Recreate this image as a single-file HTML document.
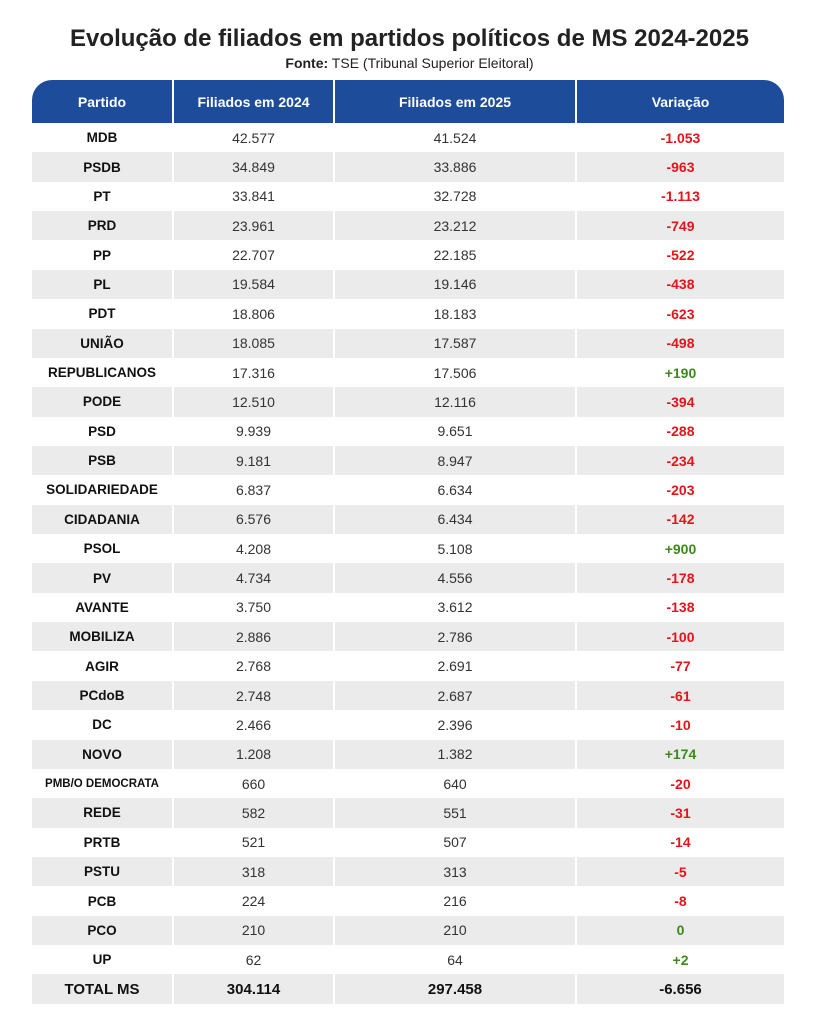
<!DOCTYPE html>
<html><head><meta charset="utf-8"><style>
body{margin:0;background:#fff;width:819px;height:1024px;overflow:hidden;font-family:"Liberation Sans",sans-serif;}
h1{position:absolute;top:25px;left:0;width:819px;text-align:center;margin:0;font-size:24px;font-weight:bold;color:#222;}
.sub{position:absolute;top:55px;left:0;width:819px;text-align:center;font-size:14px;color:#222;}
table{position:absolute;left:32px;top:80px;width:752px;border-collapse:collapse;table-layout:fixed;}
th{background:#1d4c9a;color:#fff;font-size:14px;font-weight:bold;height:43px;border-left:2px solid #fff;padding:0;}
th:first-child{border-left:none;border-top-left-radius:20px;}
th:last-child{border-top-right-radius:20px;}
td{height:29.37px;padding:0;text-align:center;font-size:14px;color:#333;border-left:2px solid #fff;}
td:first-child{font-weight:bold;color:#111;border-left:none;font-size:13.5px;}
tr:nth-child(even) td{background:#ebebeb;}
tr:nth-child(odd) td{background:#fff;}
.r{color:#e3141b;font-weight:bold;}
.g{color:#3b8a1a;font-weight:bold;}
tr.t td{font-weight:bold;font-size:15px;color:#111;background:#ebebeb;}
</style></head><body>
<h1>Evolução de filiados em partidos políticos de MS 2024-2025</h1>
<div class="sub"><b>Fonte:</b> TSE (Tribunal Superior Eleitoral)</div>
<table>
<colgroup><col style="width:141px"><col style="width:161px"><col style="width:242px"><col style="width:208px"></colgroup>
<thead><tr><th>Partido</th><th>Filiados em 2024</th><th>Filiados em 2025</th><th>Variação</th></tr></thead>
<tbody>
<tr><td>MDB</td><td>42.577</td><td>41.524</td><td class="r">-1.053</td></tr>
<tr><td>PSDB</td><td>34.849</td><td>33.886</td><td class="r">-963</td></tr>
<tr><td>PT</td><td>33.841</td><td>32.728</td><td class="r">-1.113</td></tr>
<tr><td>PRD</td><td>23.961</td><td>23.212</td><td class="r">-749</td></tr>
<tr><td>PP</td><td>22.707</td><td>22.185</td><td class="r">-522</td></tr>
<tr><td>PL</td><td>19.584</td><td>19.146</td><td class="r">-438</td></tr>
<tr><td>PDT</td><td>18.806</td><td>18.183</td><td class="r">-623</td></tr>
<tr><td>UNIÃO</td><td>18.085</td><td>17.587</td><td class="r">-498</td></tr>
<tr><td>REPUBLICANOS</td><td>17.316</td><td>17.506</td><td class="g">+190</td></tr>
<tr><td>PODE</td><td>12.510</td><td>12.116</td><td class="r">-394</td></tr>
<tr><td>PSD</td><td>9.939</td><td>9.651</td><td class="r">-288</td></tr>
<tr><td>PSB</td><td>9.181</td><td>8.947</td><td class="r">-234</td></tr>
<tr><td>SOLIDARIEDADE</td><td>6.837</td><td>6.634</td><td class="r">-203</td></tr>
<tr><td>CIDADANIA</td><td>6.576</td><td>6.434</td><td class="r">-142</td></tr>
<tr><td>PSOL</td><td>4.208</td><td>5.108</td><td class="g">+900</td></tr>
<tr><td>PV</td><td>4.734</td><td>4.556</td><td class="r">-178</td></tr>
<tr><td>AVANTE</td><td>3.750</td><td>3.612</td><td class="r">-138</td></tr>
<tr><td>MOBILIZA</td><td>2.886</td><td>2.786</td><td class="r">-100</td></tr>
<tr><td>AGIR</td><td>2.768</td><td>2.691</td><td class="r">-77</td></tr>
<tr><td>PCdoB</td><td>2.748</td><td>2.687</td><td class="r">-61</td></tr>
<tr><td>DC</td><td>2.466</td><td>2.396</td><td class="r">-10</td></tr>
<tr><td>NOVO</td><td>1.208</td><td>1.382</td><td class="g">+174</td></tr>
<tr><td style="font-size:11.5px">PMB/O DEMOCRATA</td><td>660</td><td>640</td><td class="r">-20</td></tr>
<tr><td>REDE</td><td>582</td><td>551</td><td class="r">-31</td></tr>
<tr><td>PRTB</td><td>521</td><td>507</td><td class="r">-14</td></tr>
<tr><td>PSTU</td><td>318</td><td>313</td><td class="r">-5</td></tr>
<tr><td>PCB</td><td>224</td><td>216</td><td class="r">-8</td></tr>
<tr><td>PCO</td><td>210</td><td>210</td><td class="g">0</td></tr>
<tr><td>UP</td><td>62</td><td>64</td><td class="g">+2</td></tr>
<tr class="t"><td>TOTAL MS</td><td>304.114</td><td>297.458</td><td>-6.656</td></tr>
</tbody></table>
</body></html>
